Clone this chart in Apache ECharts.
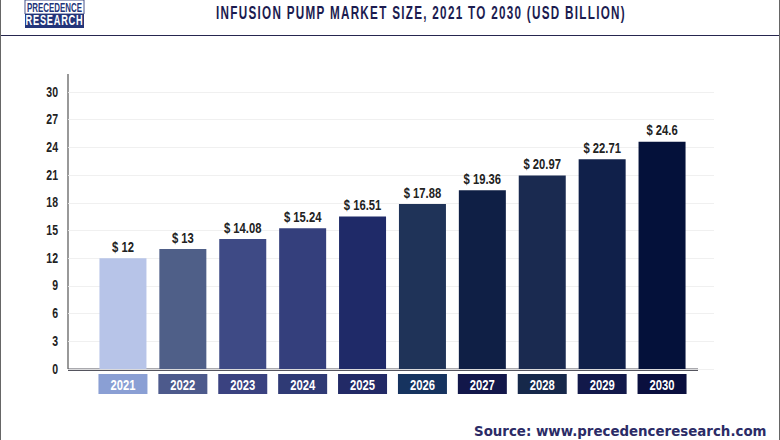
<!DOCTYPE html>
<html>
<head>
<meta charset="utf-8">
<title>Infusion Pump Market Size</title>
<style>
	html, body { margin: 0; padding: 0; background: #fff; overflow: hidden; }
	/* no condensed font is installed: draw wider and squeeze the whole chart */
	#chart { width: 1040px; height: 440px; transform: scaleX(0.75); transform-origin: 0 0; }
	/* echarts has no letter spacing, so pick the wide texts out of the svg */
	#chart text[style*="19px"] { letter-spacing: 2.1px; }
	#chart text[style*="14.5px"] { letter-spacing: 1.2px; }
</style>
<script src="https://cdn.jsdelivr.net/npm/echarts@6/dist/echarts.min.js"></script>
</head>
<body>
<div id="chart"></div>
<script>
'use strict';

var years = ['2021', '2022', '2023', '2024', '2025', '2026', '2027', '2028', '2029', '2030'];
var marketSize = [12, 13, 14.08, 15.24, 16.51, 17.88, 19.36, 20.97, 22.71, 24.6];
var barColors = ['#b7c4e8', '#4f5f88', '#3e4a85', '#343f7c', '#1f2a68', '#1f3358', '#0f1f45', '#1a2a50', '#10204a', '#04113a'];
var labelColors = ['#8a9fd4', '#4d5a8c', '#3a4280', '#2f3a75', '#222a66', '#16335f', '#12174a', '#16284a', '#12194a', '#0a0f3e'];

var FONT = '"Liberation Sans", sans-serif';
var NAVY = '#1c1c50';
var SQUEEZE = 0.75;

// screen x to chart x
function sx(x){ return x/SQUEEZE; }

var yAxisBase = { type: 'value', min: 0, max: 30, interval: 3 };

var option = {
	animation: false,
	backgroundColor: '#fff',
	grid: [
		{ left: sx(68), right: sx(66), top: 92, bottom: 71 },  // gridlines, run past the bars
		{ left: sx(93), right: sx(88), top: 92, bottom: 71 },  // bars
	],
	xAxis: [
		{ type: 'category', gridIndex: 0, show: false, data: years },
		{
			type: 'category', gridIndex: 1, data: years.map(function(y, i){
				return {
					value: y,
					textStyle: {
						backgroundColor: labelColors[i], color: '#fff',
						width: sx(49), height: 20, lineHeight: 21, align: 'center',
					},
				};
			}),
			axisLine: { show: false }, axisTick: { show: false },
			axisLabel: { interval: 0, margin: 5, fontFamily: FONT, fontSize: 15, fontWeight: 'bold' },
		},
	],
	yAxis: [
		Object.assign({}, yAxisBase, {
			gridIndex: 0,
			axisLine: { show: false }, axisTick: { show: false },
			axisLabel: { margin: sx(10), padding: [0, 0, 4, 0], color: '#222', fontFamily: FONT, fontSize: 14, fontWeight: 'bold' },
			splitLine: { show: true, lineStyle: { color: '#eeeeee', width: 1 } },
		}),
		Object.assign({}, yAxisBase, { gridIndex: 1, show: false, splitLine: { show: false } }),
	],
	series: [{
		type: 'bar',
		xAxisIndex: 1,
		yAxisIndex: 1,
		barWidth: sx(47),
		data: marketSize.map(function(v, i){
			return { value: v, itemStyle: { color: barColors[i] } };
		}),
		label: {
			show: true, position: 'top', distance: 4,
			formatter: function(p){ return '$ ' + p.value; },
			color: '#222', fontFamily: FONT, fontSize: 15, fontWeight: 'bold',
		},
	}],
	graphic: [
		// title, a graphic text because it needs its own squeeze
		{ type: 'text', x: sx(421), y: 3, scaleX: 0.82, style: { text: 'INFUSION PUMP MARKET SIZE, 2021 TO 2030 (USD BILLION)', fill: NAVY, font: 'bold 19px ' + FONT, textAlign: 'center' }, silent: true },
		// page frame and header rule
		{ type: 'rect', shape: { x: 0, y: 35, width: sx(780), height: 1 }, style: { fill: '#26264f' }, silent: true },
		{ type: 'rect', shape: { x: 0, y: 0, width: sx(1), height: 440 }, style: { fill: '#666' }, silent: true },
		{ type: 'rect', shape: { x: sx(779), y: 0, width: sx(1), height: 440 }, style: { fill: '#666' }, silent: true },
		// axis lines
		{ type: 'rect', shape: { x: sx(67.5), y: 74, width: sx(1), height: 295 }, style: { fill: '#333' }, silent: true },
		{ type: 'rect', shape: { x: sx(68), y: 368.5, width: sx(630), height: 2.5 }, style: { fill: '#55555f' }, silent: true },
		// logo
		{ type: 'rect', shape: { x: sx(25), y: 0, width: sx(59), height: 14 }, style: { fill: '#fff', stroke: '#2b3a7a', lineWidth: 1 }, silent: true },
		{ type: 'rect', shape: { x: sx(25), y: 14, width: sx(59), height: 14 }, style: { fill: '#23357a' }, silent: true },
		{ type: 'text', x: sx(54.5), y: 0, scaleX: 0.78, style: { text: 'PRECEDENCE', fill: '#23357a', font: 'bold 13.5px ' + FONT, textAlign: 'center' }, silent: true },
		{ type: 'text', x: sx(54.5), y: 13, scaleX: 0.85, style: { text: 'RESEARCH', fill: '#fff', font: 'bold 14.5px ' + FONT, textAlign: 'center' }, silent: true },
		// source line, undo the squeeze so it keeps its wide letters
		{ type: 'text', x: sx(474), y: 425, scaleX: 1/SQUEEZE, style: { text: 'Source: www.precedenceresearch.com', fill: '#2b2b66', font: 'bold 13.4px "DejaVu Sans", sans-serif' }, silent: true },
	],
};

echarts.init(document.getElementById('chart'), null, { renderer: 'svg' }).setOption(option);
</script>
</body>
</html>
